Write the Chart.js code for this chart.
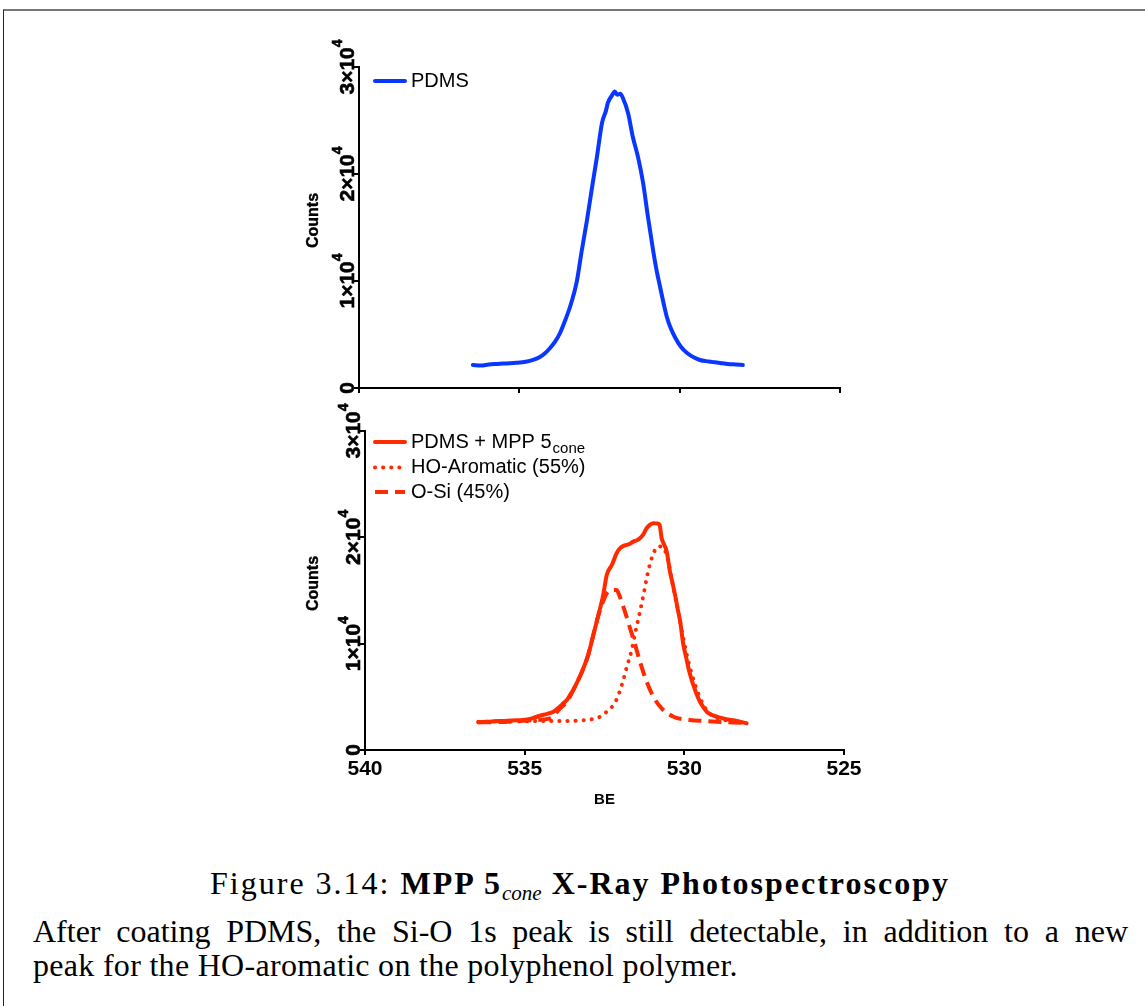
<!DOCTYPE html>
<html>
<head>
<meta charset="utf-8">
<script src="https://cdn.jsdelivr.net/npm/chart.js@4.4.1/dist/chart.umd.min.js"></script>
<style>
html, body { margin: 0; padding: 0; background: #fff; }
#page { position: relative; width: 1145px; height: 1006px; overflow: hidden; background: #fff; }
#frame { position: absolute; left: 3px; top: 9px; width: 1160px; height: 1010px; border-top: 2px solid #777; border-left: 1px solid #222; }
canvas { position: absolute; left: 0; }
#topChart { top: 0; }
#bottomChart { top: 395px; }
.cap { position: absolute; font-family: "Liberation Serif", "DejaVu Serif", serif; font-size: 32px; line-height: 34px; color: #000; white-space: nowrap; }
#capTitle { left: 0; width: 1160px; text-align: center; top: 866px; letter-spacing: 2px; }
#capTitle sub { font-size: 21px; font-style: italic; font-weight: normal; vertical-align: -6px; line-height: 0; letter-spacing: 0; }
#capL1 { left: 33px; width: 1095px; top: 914px; text-align: justify; text-align-last: justify; }
#capL2 { left: 33px; top: 948px; letter-spacing: 0.3px; }
</style>
</head>
<body>
<div id="page">
  <div id="frame"></div>
  <canvas id="topChart" width="1145" height="410"></canvas>
  <canvas id="bottomChart" width="1145" height="425"></canvas>
  <div class="cap" id="capTitle">Figure 3.14: <b>MPP 5<sub>cone</sub> X-Ray Photospectroscopy</b></div>
  <div class="cap" id="capL1">After coating PDMS, the Si-O 1s peak is still detectable, in addition to a new</div>
  <div class="cap" id="capL2">peak for the HO-aromatic on the polyphenol polymer.</div>
</div>
<script>
// axis ticks
var xTicks = [540, 535, 530, 525];
var yTicks = [0, 10000, 20000, 30000];
var yTickText = ['0', '1×10^4', '2×10^4', '3×10^4'];

// PDMS (top panel)
var pdmsBE = [536.45, 536.2, 535.95, 535.7, 535.4, 535.1, 534.8, 534.55, 534.36, 534.2, 534.04, 533.88, 533.73, 533.58, 533.42, 533.3, 533.2, 533.05, 532.89, 532.73, 532.58, 532.42, 532.3, 532.24, 532.12, 532.02, 531.95, 531.85, 531.77, 531.61, 531.46, 531.3, 531.14, 530.99, 530.83, 530.72, 530.61, 530.5, 530.4, 530.28, 530.15, 529.95, 529.77, 529.55, 529.37, 529.1, 528.9, 528.74, 528.5, 528.25, 528.03];
var pdmsCounts = [2150, 2100, 2200, 2250, 2300, 2350, 2450, 2650, 2900, 3250, 3740, 4350, 5140, 6250, 7570, 8800, 10090, 12900, 15700, 18800, 21600, 24800, 25900, 26640, 27300, 27700, 27400, 27500, 27100, 25700, 23460, 21600, 19160, 16000, 12900, 11000, 9440, 7900, 6640, 5600, 4770, 3800, 3270, 2850, 2620, 2480, 2400, 2340, 2250, 2200, 2150];

// PDMS + MPP 5cone (bottom panel)
var coatBE = [536.45, 536.2, 535.95, 535.67, 535.4, 535.04, 534.8, 534.52, 534.3, 534.1, 533.95, 533.79, 533.68, 533.58, 533.47, 533.37, 533.16, 533.01, 532.85, 532.69, 532.54, 532.43, 532.27, 532.12, 532.01, 531.9, 531.8, 531.7, 531.6, 531.5, 531.39, 531.28, 531.18, 531.07, 530.97, 530.85, 530.78, 530.71, 530.63, 530.55, 530.45, 530.37, 530.29, 530.21, 530.13, 530.03, 529.95, 529.87, 529.8, 529.72, 529.62, 529.51, 529.4, 529.3, 529.1, 528.88, 528.6, 528.36, 528.2, 528.05];
var coatCounts = [2600, 2650, 2700, 2730, 2780, 2820, 2950, 3230, 3400, 3600, 3950, 4390, 4700, 5170, 5700, 6280, 7690, 8940, 10820, 12700, 14580, 16460, 17400, 18500, 18980, 19200, 19290, 19400, 19600, 19700, 19920, 20300, 20860, 21200, 21330, 21300, 21230, 19920, 19300, 18660, 16770, 15700, 14580, 13300, 12070, 9880, 8800, 7690, 6900, 6120, 5300, 4540, 4000, 3600, 3250, 3040, 2850, 2730, 2620, 2510];

// HO-Aromatic (55%)
var aromBE = [536.45, 535.5, 534.5, 534.15, 533.58, 533.06, 532.8, 532.64, 532.43, 532.22, 532.1, 531.96, 531.8, 531.65, 531.54, 531.39, 531.28, 531.18, 531.07, 530.92, 530.8, 530.68, 530.5, 530.34, 530.19, 530.03, 529.87, 529.66, 529.4, 529.2, 528.99, 528.6, 528.05];
var aromCounts = [2650, 2700, 2720, 2730, 2730, 2820, 2950, 3130, 3600, 4230, 4900, 6100, 7840, 9400, 11000, 13010, 14580, 16150, 17560, 18800, 19150, 19100, 17710, 15210, 13010, 10510, 8300, 6110, 4230, 3400, 3010, 2750, 2540];

// O-Si (45%)
var osiBE = [536.45, 535.5, 534.8, 534.21, 533.89, 533.68, 533.37, 533.16, 533.01, 532.85, 532.69, 532.54, 532.43, 532.27, 532.12, 532.07, 531.86, 531.7, 531.54, 531.39, 531.18, 530.97, 530.71, 530.34, 529.82, 529.4, 528.05];
var osiCounts = [2600, 2650, 2800, 2980, 3920, 4540, 6280, 7690, 8940, 10820, 12700, 14000, 14740, 15050, 15050, 14800, 13010, 11450, 9880, 8310, 6430, 5010, 3920, 3130, 2820, 2730, 2540];

var BLUE = '#0a37ff';
var RED = '#ff2a00';
var SANS = '"Liberation Sans", Arial, sans-serif';

function pts(xs, ys) {
    return xs.map(function(x, i) { return { x: x, y: ys[i] }; });
}

// draw text filled plus a thin stroke so rotated labels keep their weight
function heavyText(ctx, s, x, y) {
    ctx.fillText(s, x, y);
    ctx.strokeText(s, x, y);
}

var axisText = {
    id: 'axisText',
    afterDraw: function(chart, args, o) {
        var ctx = chart.ctx;
        var area = chart.chartArea;
        var ys = chart.scales.y;
        ctx.save();
        ctx.fillStyle = '#000';
        ctx.strokeStyle = '#000';
        ctx.lineWidth = 0.6;

        // rotated y tick labels with superscript
        yTicks.forEach(function(v, i) {
            var py = ys.getPixelForValue(v);
            var parts = yTickText[i].split('^');
            ctx.save();
            ctx.translate(area.left - 5, py);
            ctx.rotate(-Math.PI / 2);
            ctx.textBaseline = 'alphabetic';
            ctx.textAlign = 'left';
            ctx.font = 'bold 21px ' + SANS;
            var w1 = ctx.measureText(parts[0]).width;
            var w2 = 0;
            if (parts[1]) {
                ctx.font = 'bold 14px ' + SANS;
                w2 = ctx.measureText(parts[1]).width;
            }
            var x0 = -(w1 + w2) / 2;
            ctx.font = 'bold 21px ' + SANS;
            heavyText(ctx, parts[0], x0, 0);
            if (parts[1]) {
                ctx.font = 'bold 14px ' + SANS;
                heavyText(ctx, parts[1], x0 + w1, -12);
            }
            ctx.restore();
        });

        // y title
        ctx.save();
        ctx.translate(318, (area.top + area.bottom) / 2 - 7);
        ctx.rotate(-Math.PI / 2);
        ctx.font = 'bold 16px ' + SANS;
        ctx.textAlign = 'center';
        ctx.textBaseline = 'alphabetic';
        ctx.lineWidth = 0.4;
        heavyText(ctx, 'Counts', 0, 0);
        ctx.restore();

        // x title
        if (o.xTitle) {
            ctx.font = 'bold 15px ' + SANS;
            ctx.textAlign = 'center';
            ctx.textBaseline = 'alphabetic';
            ctx.fillText(o.xTitle, (area.left + area.right) / 2, o.xTitleY);
        }

        // legend
        o.legend.forEach(function(item) {
            var ds = chart.data.datasets[item.ds];
            var y = item.y - chart.canvas.offsetTop;
            ctx.save();
            ctx.strokeStyle = ds.borderColor;
            ctx.lineWidth = ds.borderWidth;
            ctx.lineCap = ds.borderCapStyle || 'butt';
            ctx.setLineDash(ds.borderDash || []);
            ctx.beginPath();
            ctx.moveTo(375, y);
            ctx.lineTo(405, y);
            ctx.stroke();
            ctx.restore();
            ctx.font = '20px ' + SANS;
            ctx.textAlign = 'left';
            ctx.textBaseline = 'middle';
            ctx.fillStyle = '#000';
            ctx.fillText(item.text, 411, y);
            if (item.sub) {
                var w = ctx.measureText(item.text).width;
                ctx.font = '15px ' + SANS;
                ctx.fillText(item.sub, 411 + w + 1, y + 7);
            }
        });
        ctx.restore();
    }
};

function axes(showXLabels, xHeight) {
    return {
        x: {
            type: 'linear', min: 525, max: 540, reverse: true,
            afterBuildTicks: function(s) { s.ticks = xTicks.map(function(v) { return { value: v }; }); },
            afterFit: function(s) { s.height = xHeight; },
            grid: { display: true, drawOnChartArea: false, drawTicks: true, tickLength: 5, color: '#000', lineWidth: 2 },
            border: { display: true, color: '#000', width: 2 },
            ticks: { display: showXLabels, color: '#000', padding: 2, maxRotation: 0, font: { family: SANS, size: 21, weight: 'bold' } }
        },
        y: {
            type: 'linear', min: 0, max: 30000,
            afterBuildTicks: function(s) { s.ticks = yTicks.map(function(v) { return { value: v }; }); },
            afterFit: function(s) { s.width = 60; },
            grid: { display: true, drawOnChartArea: false, drawTicks: true, tickLength: 5, color: '#000', lineWidth: 2 },
            border: { display: true, color: '#000', width: 2 },
            ticks: { display: false }
        }
    };
}

var lineBase = { pointRadius: 0, borderWidth: 4, fill: false, cubicInterpolationMode: 'monotone', borderJoinStyle: 'round' };

new Chart(document.getElementById('topChart').getContext('2d'), {
    type: 'line',
    data: {
        datasets: [
            Object.assign({ label: 'PDMS', data: pts(pdmsBE, pdmsCounts), borderColor: BLUE, borderCapStyle: 'round' }, lineBase)
        ]
    },
    options: {
        responsive: false, animation: false,
        layout: { padding: { left: 299, right: 305, top: 67, bottom: 0 } },
        scales: axes(false, 22),
        plugins: {
            legend: { display: false }, tooltip: { enabled: false },
            axisText: { legend: [{ ds: 0, y: 81, text: 'PDMS' }] }
        }
    },
    plugins: [axisText]
});

new Chart(document.getElementById('bottomChart').getContext('2d'), {
    type: 'line',
    data: {
        datasets: [
            Object.assign({ label: 'PDMS + MPP 5cone', data: pts(coatBE, coatCounts), borderColor: RED, borderCapStyle: 'round' }, lineBase),
            Object.assign({ label: 'HO-Aromatic (55%)', data: pts(aromBE, aromCounts), borderColor: RED, borderDash: [0.1, 8], borderCapStyle: 'round' }, lineBase),
            Object.assign({ label: 'O-Si (45%)', data: pts(osiBE, osiCounts), borderColor: RED, borderDash: [13, 7], borderCapStyle: 'butt' }, lineBase)
        ]
    },
    options: {
        responsive: false, animation: false,
        layout: { padding: { left: 305, right: 301, top: 36, bottom: 20 } },
        scales: axes(true, 50),
        plugins: {
            legend: { display: false }, tooltip: { enabled: false },
            axisText: {
                xTitle: 'BE', xTitleY: 804 - 395,
                legend: [
                    { ds: 0, y: 442, text: 'PDMS + MPP 5', sub: 'cone' },
                    { ds: 1, y: 467.5, text: 'HO-Aromatic (55%)' },
                    { ds: 2, y: 492, text: 'O-Si (45%)' }
                ]
            }
        }
    },
    plugins: [axisText]
});
</script>
</body>
</html>
